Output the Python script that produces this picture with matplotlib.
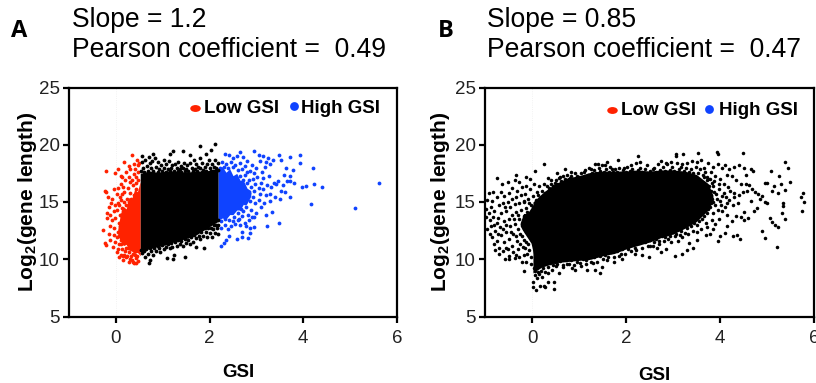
import matplotlib
matplotlib.use("Agg")
import matplotlib.pyplot as plt
from matplotlib.markers import MarkerStyle
from matplotlib.transforms import Affine2D

plt.rcParams['font.family'] = ['Liberation Sans', 'DejaVu Sans']
plt.rcParams['mathtext.fontset'] = 'custom'
plt.rcParams['mathtext.bf'] = 'Liberation Sans:bold'
plt.rcParams['mathtext.rm'] = 'Liberation Sans'

# ---- Panel A, values ----
a_low_pts = [(.34,19.13),(-.21,17.67),(.18,18.46),(.04,17.88),(.27,18.14),(.41,17.9),(.45,18.66),(-.01,17.56),
 (.13,17.15),(.38,17.44),(.3,16.77),(-.24,15.98),(-.2,15.85),(-.03,16.13),(.04,16.2),(.16,16.33),(-.08,15.3),
 (-.16,15.4),(-.19,14.06),(-.12,13.86),(-.28,12.58),(-.23,11.44),(-.21,11.24),(-.12,11.68),(-.06,11.03),
 (.02,10.66),(.16,9.93),(.27,9.78),(.38,9.64),(.06,10.2),(.22,10.16),(.1,17.3),(.22,17.6),(.3,17.9),(.44,17.2),
 (.12,16.6),(.25,16.2),(.36,16.5),(.48,16.9),(.02,15.7),(.08,15.4),(.18,15.9),(.3,15.8),(.43,16.1),(-.1,14.9),
 (-.02,14.7),(.05,14.9),(.12,15.2),(-.15,14.6),(-.05,14.2),(.03,14.3),(.08,13.9),(-.18,13.6),(-.08,13.4),
 (-.01,13.6),(.06,13.2),(-.12,12.9),(-.03,12.7),(.04,12.4),(-.15,12.2),(-.05,12.1),(.03,11.9),(.1,12.7),
 (-.02,11.5),(.06,11.3),(.1,11.7),(.14,10.9),(.05,10.9),(.2,10.7),(.1,10.4),(.15,10.3),(.24,10.3),(.3,10.05),
 (.34,9.9),(.42,10.1),(.47,9.85),(.25,11.0),(.36,10.5),(.13,14.5),(.17,15.0),(.23,15.3),(.47,18.2),(.38,18.3),
 (.2,16.9),(.28,17.2),(.34,16.9),(.42,16.7),(.47,17.6),(.5,18.4),(.14,15.7),(.22,14.7),(.27,15.0),(.33,15.3),
 (.39,15.6),(.46,15.4),(.07,14.7),(.11,13.9),(.15,14.2),(.09,12.9),(.13,12.3),(.07,12.0),(.12,11.3),(.18,11.4),
 (.22,11.0),(.28,10.6),(.33,10.3),(.41,10.4),(.46,10.3),(.18,10.4),(.36,9.8),(.43,9.7)]
a_mid_pts = [(2.115,20.03),(1.79,19.86),(2.03,19.54),(1.92,19.19),(1.59,19.1),(1.43,19.45),(1.21,19.45),(1.15,19.19),
 (.8,19.19),(.7,18.9),(.55,19.04),(.84,18.8),(1.03,18.66),(1.32,18.5),(1.66,18.66),(1.8,18.8),(1.98,18.66),(2.12,18.7),
 (.55,18.5),(.62,18.7),(.72,18.4),(.78,18.6),(.9,18.45),(.97,18.2),(1.08,18.3),(1.13,18.55),(1.2,18.2),(1.26,18.35),
 (1.38,18.15),(1.45,18.4),(1.52,18.2),(1.58,18.4),(1.7,18.3),(1.75,18.05),(1.84,18.4),(1.9,18.1),(1.95,18.35),(2.05,18.3),
 (2.1,18.1),(2.17,18.4),(.58,18.0),(.66,18.15),(.75,17.95),(.86,18.05),(.93,17.9),(1.02,18.0),(1.12,17.9),(1.17,18.0),
 (1.3,17.95),(1.36,17.85),(1.43,17.95),(1.5,17.85),(1.62,18.0),(1.68,17.85),(1.8,17.95),(1.87,17.8),(2.0,18.0),(2.14,17.95),
 (.54,17.7),(.6,17.6),(.69,17.75),(.8,17.7),(.89,17.65),(.98,17.7),(1.06,17.65),(1.15,17.7),(1.24,17.75),(1.33,17.7),
 (1.4,17.65),(1.47,17.7),(1.55,17.75),(1.64,17.7),(1.73,17.7),(1.83,17.65),(1.92,17.7),(2.03,17.75),(2.08,17.7),(2.17,17.8),
 (.7,9.64),(.72,9.93),(1.1,10.13),(1.25,10.37),(1.21,10.0),(1.48,10.2),(1.89,10.95),(1.72,11.1),(.8,10.4),(.63,10.2),
 (.95,10.66),(1.16,10.95),(1.44,11.15),(1.58,11.33),(1.8,11.73),(1.94,11.97),(2.05,11.95),(2.16,12.7),(2.19,12.2),
 (.55,10.55),(.6,10.7),(.68,10.5),(.76,10.75),(.85,10.7),(.92,10.95),(1.02,10.9),(1.08,11.1),(1.2,11.05),(1.3,11.2),
 (1.36,11.35),(1.5,11.45),(1.55,11.65),(1.65,11.55),(1.7,11.85),(1.77,12.05),(1.86,12.0),(1.92,12.4),(2.0,12.3),
 (2.07,12.6),(2.12,12.3),(2.18,13.0),(2.13,12.95),(2.03,12.75),(1.6,11.9),(1.4,11.6),(1.12,11.3),(.9,11.15),
 (.53,10.8),(.64,10.9),(.72,11.0),(.81,10.95),(.98,11.25),(1.05,11.4),(1.18,11.45),(1.27,11.5),(1.33,11.7),(1.47,11.8),
 (1.53,12.0),(1.67,12.15),(1.74,12.4),(1.82,12.35),(1.9,12.75),(1.97,12.7),(2.09,13.0),(2.17,13.4)]
a_high_pts = [(5.61,16.7),(5.10,14.5),(4.40,16.3),(4.17,14.85),(4.22,16.6),(4.21,18.0),(4.06,16.4),(3.97,16.3),(3.94,18.4),
 (3.92,19.1),(3.71,18.9),(3.48,19.1),(3.53,18.65),(3.78,17.8),(3.72,17.25),(3.8,16.7),(3.71,16.8),(3.65,16.8),(3.59,17.35),
 (3.64,18.0),(3.48,13.2),(3.33,14.1),(3.23,12.9),(3.2,13.85),(3.71,15.45),(3.51,15.3),(3.39,15.45),(3.6,15.9),(3.53,16.0),
 (3.57,16.45),(3.46,16.8),(3.37,16.7),(3.41,16.6),(3.31,16.3),(3.28,15.1),(3.16,14.9),(2.94,19.45),(2.69,11.9),(2.81,11.85),
 (2.59,11.8),(2.41,12.0),(2.31,11.4),(2.24,11.2),(2.36,11.7),(2.87,12.75),(2.94,12.8),(2.86,12.25),(3.05,19.1),(3.15,19.0),
 (3.25,18.85),(3.35,18.65),(3.2,18.5),(3.08,18.6),(3.3,18.3),(3.18,18.1),(3.12,17.6),(3.27,17.3),(3.15,17.1),(3.1,16.7),
 (3.22,16.5),(3.3,15.7),(3.2,15.6),(3.15,16.1),(3.05,15.2),(3.1,14.6),(3.0,14.0),(2.85,13.4),(2.75,13.2),(2.65,13.0),
 (2.55,13.1),(2.45,12.9),(2.32,13.0),(2.25,12.7),(2.4,12.6),(2.7,12.4),(2.78,12.9),(2.95,13.7),(2.32,19.2),(2.42,19.1),
 (2.5,18.85),(2.58,19.0),(2.64,19.4),(2.72,18.9),(2.8,18.6),(2.9,18.2),(3.0,18.0),(2.26,18.5),(2.36,18.3),(2.46,18.45),
 (2.55,18.25),(2.66,18.4),(2.76,18.15),(2.86,17.75),(2.95,17.5),(3.02,17.15),(2.98,16.6),(3.05,16.2),(2.92,15.4),(2.96,14.9),
 (2.88,14.3),(2.78,14.6),(2.7,13.8),(2.85,16.9),(2.92,17.0),(2.8,17.6),(3.08,15.7),
 (2.23,18.0),(2.3,18.1),(2.4,17.95),(2.5,18.05),(2.6,17.8),(2.7,17.9),(2.75,17.4),(2.65,17.3),(2.72,16.9),(2.8,16.7),
 (2.88,16.3),(2.94,16.0),(2.84,15.8),(2.78,15.4),(2.86,15.1),(2.75,14.9),(2.68,14.4),(2.6,14.0),(2.52,13.7),(2.62,13.55),
 (2.42,13.4),(2.33,13.5),(2.25,13.3),(2.72,14.2),(2.82,13.9),(2.9,13.7),(2.6,13.4),(2.5,13.3)]
a_low_hull_x = [.04, .1, .16, .22, .28, .34, .4, .46, .52]
a_low_hull_top = [12.6, 14.0, 14.6, 14.4, 15.4, 15.3, 16.1, 15.9, 16.8]
a_low_hull_bot = [12.2, 11.6, 11.2, 11.3, 10.8, 10.7, 10.5, 10.6, 10.3]
a_mid_hull_x = [.52, .7, .9, 1.1, 1.3, 1.5, 1.7, 1.9, 2.18]
a_mid_hull_top = [17.5, 17.7, 17.6, 17.7, 17.7, 17.6, 17.7, 17.7, 17.9]
a_mid_hull_bot = [10.7, 10.9, 11.1, 11.3, 11.6, 11.8, 12.1, 12.6, 13.3]
a_high_hull_x = [2.18, 2.27, 2.35, 2.43, 2.5, 2.58, 2.65, 2.72, 2.8, 2.88]
a_high_hull_top = [17.9, 18.1, 17.6, 17.9, 17.3, 17.5, 16.9, 16.9, 16.2, 16.0]
a_high_hull_bot = [13.4, 13.6, 13.5, 13.9, 13.9, 14.3, 14.3, 14.8, 14.9, 15.5]

# ---- Panel B, values ----
b_sparse_right = [(5.77,15.75),(5.72,15.46),(5.79,15.02),(5.75,14.24),(5.38,18.46),(5.44,17.94),(5.09,17.7),(5.26,17.3),
 (4.95,16.7),(4.99,16.7),(5.49,16.77),(5.3,16.57),(5.14,16.42),(5.1,15.98),(5.23,15.75),(5.39,16.04),(5.33,14.88),(5.34,14.67),
 (5.31,14.06),(5.38,13.51),(5.07,13.57),(5.1,13.28),(5.16,12.99),(5.23,12.78),(4.89,12.49),(4.95,11.82),(5.21,11.07),(4.49,19.25),
 (3.93,19.33),(3.96,19.2),(3.54,19.25),(3.22,19.2),(3.07,19.2),(3.07,19.0),(4.9,15.5),(4.95,15.0),(4.85,15.3),(4.8,15.7),
 (5.0,14.9),(4.72,14.2),(4.78,14.45),(4.65,15.1),(4.6,13.6),(4.52,13.4),(4.45,13.7),(4.5,14.1),(4.35,13.8),(4.25,13.3),
 (4.15,12.9),(4.1,12.3),(4.0,12.0),(3.95,11.6),(4.28,12.0),(4.42,11.75),(4.37,12.1),(4.55,17.4),(4.65,17.9),(4.7,17.7),
 (4.5,18.0),(4.4,18.2),(4.3,18.1),(4.2,17.9),(4.15,17.4),(4.25,17.3),(4.35,16.9),(4.45,16.6),(4.55,16.6),(4.62,16.5),
 (4.68,16.1),(4.74,15.9),(4.58,15.95),(4.48,15.85),(4.4,15.6),(4.3,15.4),(4.2,15.2),(4.38,14.9),(4.28,14.7),(4.1,14.6),
 (4.05,14.2),(4.15,13.9),(3.98,13.5),(3.9,13.1),(3.85,12.6),(3.78,12.2),(3.7,12.1),(3.6,12.6),(3.52,11.7),(3.33,11.4),
 (3.42,11.0),(3.2,10.5),(3.3,10.8),(3.05,10.3),(3.65,18.0),(3.75,18.4),(3.85,18.1),(3.95,18.3),(4.05,18.0),(4.1,18.2),
 (3.8,17.6),(3.9,17.3),(4.0,17.0),(4.08,16.6),(4.18,16.3),(3.72,16.9),(3.85,16.4),(3.98,16.1),(4.08,15.8),(4.12,15.4),
 (3.92,15.7),(3.82,15.3),(4.0,15.1),(3.9,14.7),(3.78,14.6),(3.72,14.0),(3.85,14.0),(3.62,13.5),(3.7,13.2),(3.5,13.0),
 (3.42,12.5),(3.32,12.2),(3.2,11.9),(3.1,11.6),(2.95,11.5),(3.4,18.6),(3.3,18.4),(3.2,18.3),(3.5,18.5),(3.6,18.7),(2.95,18.5),
 (2.85,18.4),(2.75,18.55),(3.8,16.0),(3.88,15.9),(3.76,15.7),(3.85,15.0),(3.94,15.3),(3.8,14.9),(3.75,14.4),(3.68,14.5),
 (3.66,13.8),(3.58,13.9),(3.55,13.3),(3.45,13.2),(3.38,12.9),(3.5,12.4),(3.25,12.3),(3.15,12.1),(3.05,12.0),(2.9,11.75),
 (2.8,11.6),(2.7,11.3),(2.6,11.5),(3.95,14.3),(3.68,16.4),(3.76,16.4),(3.66,17.2),(3.75,17.0),(3.88,16.8),(3.98,16.6),
 (4.05,15.5),(4.22,16.0),(4.3,15.8),(4.15,14.9),(4.02,14.7),(3.72,12.8),(3.82,13.4)]
b_sparse_left = [(.46,7.4),(.09,7.3),(.02,7.6),(.02,8.03),(.17,7.7),(.35,8.04),(.47,8.04),(.25,7.66),(.28,7.6),(-.18,8.94),(.11,8.33),
 (.21,8.47),(.35,8.76),(.57,8.82),(.85,9.2),(1.17,9.06),(1.44,8.82),(1.49,9.35),(1.35,9.06),(1.05,9.45),(.92,9.06),(1.74,9.78),
 (1.91,9.99),(2.2,10.5),(2.48,10.2),(2.35,10.35),(.25,18.31),(.07,17.73),(-.12,17.2),(-.05,17),(-.33,17.4),(-.74,17.1),(-.52,16.77),
 (-.64,16.6),(-.83,15.84),(-.92,15.75),(-.67,15.9),(-.28,16.77),(-.37,16.9),(2.25,19.04),(1.84,18.66),(1.59,18.52),(1.35,18.31),
 (.83,17.64),(.7,17.85),(.53,17.5),(.35,17.06),(-.58,10.0),(-.49,10),(-.37,10.07),(-.22,9.8),(-.12,9.8),(-.78,10.8),(-.71,10.5),
 (-.95,15.2),(-.85,15.1),(-.75,15.4),(-.6,15.5),(-.5,15.8),(-.42,16.2),(-.32,16.0),(-.22,16.3),(-.13,16.4),(-.05,16.1),
 (-.97,14.4),(-.88,14.6),(-.8,14.2),(-.7,14.7),(-.62,14.9),(-.52,15.0),(-.42,15.3),(-.33,15.4),(-.24,15.6),(-.15,15.7),
 (-.98,13.7),(-.9,13.4),(-.82,13.7),(-.74,13.2),(-.65,14.0),(-.55,14.2),(-.46,14.6),(-.37,14.8),(-.27,14.9),(-.18,15.0),(-.08,15.3),
 (-.96,12.6),(-.87,12.9),(-.78,12.5),(-.68,12.8),(-.6,13.3),(-.5,13.5),(-.42,13.9),(-.33,14.1),(-.23,14.3),(-.12,14.5),(-.03,14.7),
 (-.85,11.9),(-.75,11.6),(-.66,12.1),(-.56,12.4),(-.46,12.9),(-.37,13.1),(-.27,13.5),(-.17,13.8),(-.07,13.9),(.02,14.6),
 (-.8,11.3),(-.7,11.0),(-.6,11.5),(-.5,11.8),(-.4,12.2),(-.3,12.6),(-.2,12.9),(-.1,13.2),(-.02,13.3),
 (-.62,10.7),(-.52,10.9),(-.42,11.2),(-.32,11.6),(-.22,12.0),(-.12,12.4),(-.04,12.7),(-.5,10.3),(-.4,10.6),(-.3,10.9),
 (-.2,11.1),(-.12,11.5),(-.03,11.9),(-.28,10.2),(-.16,10.4),(-.06,10.8),(-.02,10.2),(.04,9.2),(.12,8.9),(.2,9.0),(.07,8.6),
 (.27,8.9),(.42,9.1),(.5,9.4),(.65,9.3),(.75,9.55),(.15,16.4),(.25,16.6),(.4,16.9),(.5,16.9),(.6,17.2),(.8,17.1),(.95,17.3),
 (1.1,17.6),(1.25,17.85),(1.42,18.0),(1.55,18.2),(1.7,17.9),(1.95,18.0),(2.1,18.2),(2.3,18.5),(2.45,18.2),(2.6,18.0),(.02,15.5),
 (.1,15.9),(.05,16.6),(1.2,17.4),(1.9,10.5),(2.05,10.9),(2.2,11.0),(2.5,11.2),(2.65,11.0),(2.75,10.6),(2.85,10.9),(1.6,9.9),
 (1.3,9.7),(1.15,9.9),(.95,9.8),
 (-.16,15.1),(-.1,14.1),(-.06,14.9),(-.22,13.1),(-.14,13.3),(-.06,13.6),(-.25,12.2),(-.16,12.6),(-.08,12.9),(-.18,11.7),
 (-.08,12.2),(-.26,11.3),(-.14,11.0),(-.08,11.3),(-.35,12.0),(-.45,12.4),(-.55,11.0),(-.35,10.4),(-.1,10.5),(-.03,9.6),
 (-.72,12.2),(-.62,12.6),(-.9,12.2),(-.8,13.0),(-.55,13.0),(-.3,13.9),(-.38,13.5),(-.72,13.6),(-.92,14.0),(-.58,14.6)]
b_rim_top = [(.08,15.2),(.13,15.6),(.18,15.1),(.22,16.0),(.27,15.8),(.31,16.4),(.36,16.2),(.4,16.6),(.44,16.4),(.48,16.7),
 (.53,16.6),(.57,17.1),(.62,16.8),(.66,17.3),(.7,17.0),(.74,17.4),(.78,17.0),(.82,17.3),(.87,17.0),(.91,17.5),(.96,17.1),
 (1.0,17.2),(1.04,17.5),(1.09,17.2),(1.13,17.8),(1.18,17.3),(1.22,18.0),(1.27,17.5),(1.31,17.8),(1.36,17.5),(1.4,18.3),
 (1.45,17.7),(1.49,18.2),(1.54,17.6),(1.58,17.9),(1.63,17.6),(1.67,18.1),(1.72,17.6),(1.76,17.9),(1.81,17.6),(1.85,18.0),
 (1.9,17.5),(1.94,17.8),(1.99,17.6),(2.03,18.1),(2.08,17.7),(2.12,17.9),(2.17,17.6),(2.21,18.4),(2.26,17.8),(2.3,18.0),
 (2.35,17.6),(2.4,17.9),(2.44,17.5),(2.5,17.7),(2.54,17.5),(2.58,17.9),(2.63,17.6),(2.68,18.3),(2.73,17.8),(2.78,18.1),
 (2.83,17.7),(2.88,18.3),(2.93,17.8),(2.98,18.1),(3.03,17.7),(3.08,18.4),(3.13,17.9),(3.18,18.1),(3.23,17.7),(3.28,18.0),
 (3.33,17.6),(3.38,17.9),(3.43,17.5),(3.48,18.1),(3.53,17.5),(3.58,17.9),(3.63,17.4),(3.68,17.6),(3.73,17.2),(3.78,17.0),(3.82,16.7)]
b_rim_bot = [(.06,9.0),(.1,9.4),(.15,8.7),(.19,9.5),(.24,9.2),(.29,9.7),(.33,9.3),(.38,9.7),(.44,9.5),(.48,9.8),(.54,9.6),
 (.6,9.85),(.66,9.5),(.72,9.9),(.78,9.6),(.84,9.9),(.9,9.5),(.96,10.0),(1.02,9.7),(1.08,10.0),(1.14,9.6),(1.2,10.1),
 (1.26,9.8),(1.32,10.2),(1.38,9.8),(1.44,10.3),(1.5,10.0),(1.56,10.4),(1.62,10.2),(1.68,10.6),(1.74,10.2),(1.8,10.7),
 (1.86,10.3),(1.92,10.9),(1.98,10.5),(2.04,11.1),(2.1,10.7),(2.16,11.3),(2.22,10.8),(2.28,11.4),(2.34,11.0),(2.4,11.5),
 (2.46,11.2),(2.52,11.7),(2.58,11.2),(2.64,11.8),(2.7,11.6),(2.76,12.0),(2.82,11.9),(2.88,12.2),(2.94,12.0),(3.0,12.4),
 (3.06,12.2),(3.12,12.6),(3.18,12.5),(3.24,12.9),(3.3,12.7),(3.36,13.2),(3.42,13.5),(3.48,13.7),(3.54,14.0),(3.6,14.3)]
b_hull_x = [.02, .2, .35, .5, .75, 1.0, 1.25, 1.5, 1.75, 2.0, 2.25, 2.5, 2.75, 3.0, 3.25, 3.5, 3.75, 3.85]
b_hull_top = [15.0, 15.7, 16.2, 16.6, 17.1, 17.3, 17.6, 17.7, 17.7, 17.7, 17.8, 17.7, 17.8, 17.8, 17.7, 17.4, 16.6, 15.6]
b_hull_bot = [8.8, 9.3, 9.5, 9.7, 9.8, 9.9, 10.0, 10.3, 10.5, 10.9, 11.2, 11.5, 11.9, 12.2, 12.7, 13.3, 14.3, 15.2]
b_left_hull_x = [-.25, -.18, -.1, -.02, .1]
b_left_hull_top = [13.2, 14.0, 14.0, 14.5, 15.2]
b_left_hull_bot = [12.9, 12.4, 11.9, 11.4, 9.2]

xticks = [0, 2, 4, 6]
yticks = [5, 10, 15, 20, 25]
xlim = (-1, 6)
ylim = (5, 25)
RED, BLUE, BLACK = '#ff2200', '#0f43ff', '#000000'
W, H = 816, 383
fig = plt.figure(figsize=(W/100, H/100), dpi=100)

def make_axes(left, right, xpad, ypad):
    ax = fig.add_axes([left/W, 1-316.5/H, (right-left)/W, (316.5-87.5)/H])
    ax.set_xlim(*xlim); ax.set_ylim(*ylim)
    ax.set_xticks(xticks); ax.set_yticks(yticks)
    for s in ax.spines.values():
        s.set_linewidth(1.6)
    ax.tick_params(width=1.6, length=4, labelsize=13.5, pad=2.5, labelcolor='#222222', color='black')
    ax.tick_params(axis='x', pad=6)
    ax.axvline(0, color='#eeeeee', lw=0.6, ls=':', zorder=0)
    ax.set_xlabel('GSI', fontweight='bold', fontsize=13.5, labelpad=xpad, x=0.515)
    ax.set_ylabel(r'$\mathbf{Log_2(gene\ length)}$', fontsize=15, labelpad=ypad)
    return ax

def dots(ax, pts, color, s=7.5):
    ax.scatter([p[0] for p in pts], [p[1] for p in pts], s=s, c=color, linewidths=0, zorder=3)

# Panel A
axA = make_axes(69, 397, 12, 0)
axA.fill_between(a_low_hull_x, a_low_hull_bot, a_low_hull_top, color=RED, lw=0, zorder=2)
axA.fill_between(a_high_hull_x, a_high_hull_bot, a_high_hull_top, color=BLUE, lw=0, zorder=2)
dots(axA, a_low_pts, RED); dots(axA, a_high_pts, BLUE); dots(axA, a_mid_pts, BLACK)
axA.fill_between(a_mid_hull_x, a_mid_hull_bot, a_mid_hull_top, color=BLACK, lw=0, zorder=4)

# Panel B
axB = make_axes(485, 814, 14, 2)
axB.fill_between(b_hull_x, b_hull_bot, b_hull_top, color=BLACK, lw=0, zorder=2)
axB.fill_between(b_left_hull_x, b_left_hull_bot, b_left_hull_top, color=BLACK, lw=0, zorder=2)
for pts in (b_sparse_left, b_sparse_right, b_rim_top, b_rim_bot):
    dots(axB, pts, BLACK, s=6.5)

def legend(ax, rx, bx, ry, by, lt, ht, ty):
    wide = MarkerStyle('o', transform=Affine2D().scale(1.3, 0.85))
    ax.scatter([rx], [ry], s=34, c=RED, marker=wide, linewidths=0, zorder=5)
    ax.scatter([bx], [by], s=40, c=BLUE, marker='o', linewidths=0, zorder=5)
    ax.text(lt, ty, 'Low GSI', fontweight='bold', fontsize=13.5, va='center', ha='left', zorder=6)
    ax.text(ht, ty, 'High GSI', fontweight='bold', fontsize=13.5, va='center', ha='left', zorder=6)

legend(axA, 1.68, 3.8, 23.2, 23.37, 1.88, 3.96, 23.2)
legend(axB, 1.7, 3.77, 23.0, 23.15, 1.9, 3.97, 23.0)

def txt(px, py, s, **kw):
    fig.text(px/W, 1-py/H, s, va='center', ha='left', **kw)

txt(72, 20, 'Slope = 1.2', fontsize=19.1)
txt(72, 50, 'Pearson coefficient =  0.49', fontsize=19.1)
txt(487, 20, 'Slope = 0.85', fontsize=19.1)
txt(487, 50, 'Pearson coefficient =  0.47', fontsize=19.1)
txt(11, 31, 'A', fontsize=17, fontweight='bold', family=['Open Sans', 'DejaVu Sans'])
txt(438, 31, 'B', fontsize=17, fontweight='bold', family=['Open Sans', 'DejaVu Sans'])

fig.savefig('out.png', dpi=100)
